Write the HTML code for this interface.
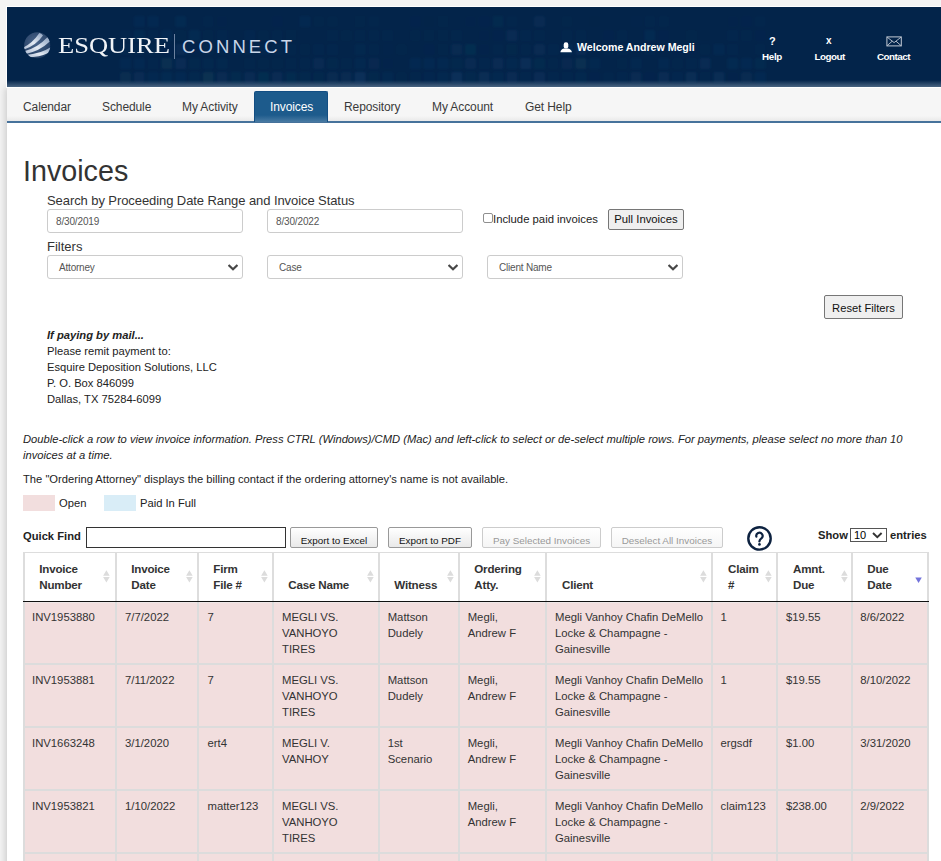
<!DOCTYPE html>
<html><head><meta charset="utf-8">
<style>
*{box-sizing:border-box}
html,body{margin:0;padding:0}
body{width:941px;height:861px;overflow:hidden;background:#f4f4f4;font-family:"Liberation Sans",sans-serif;color:#333;position:relative}
.a{position:absolute;white-space:nowrap}
#frame{position:absolute;left:6px;top:6px;width:960px;height:82px;background:#fff}
#page{position:absolute;left:7px;top:87px;width:960px;height:900px;background:#fff;box-shadow:-1px 0 8px rgba(0,0,0,.2)}
#hdr{position:absolute;left:7px;top:7px;width:960px;height:80px;background:linear-gradient(to bottom,#03244a 0,#03244a 73px,#4a6582 80px)}
#nav{position:absolute;left:7px;top:88px;width:960px;height:33px;background:linear-gradient(to bottom,#f6f6f6 0,#f6f6f6 28px,#e9e9e9 33px)}
#navline{position:absolute;left:7px;top:121px;width:960px;height:2px;background:#46729b}
.nv{position:absolute;top:100px;font-size:12px;color:#3a3a3a;letter-spacing:-0.1px}
#tab{position:absolute;left:254px;top:91px;width:74px;height:31px;background:linear-gradient(to bottom,#1d5b8c 0,#1d5b8c 23px,#4f7fa6 31px);border-radius:2px 2px 0 0;border:1px solid #134e83;border-bottom:0}
.w{color:#fff;font-weight:bold}

.h1{font-size:28.7px;color:#333}
.lbl{font-size:13px;color:#333}
.inp{position:absolute;height:24px;border:1px solid #ccc;border-radius:3px;background:#fff;font-size:10px;letter-spacing:-0.15px;color:#555;padding-left:8px;line-height:24px}
.sel{position:absolute;height:24px;border:1px solid #ccc;border-radius:3px;background:#fff;font-size:10px;letter-spacing:-0.2px;color:#555;padding-left:11px;line-height:24px}
.chev{position:absolute;right:4px;top:8px}
.btn{position:absolute;background:#efefef;border:1px solid #767676;border-radius:2px;color:#111;text-align:center}
.t11{font-size:11.2px;line-height:16px;color:#222}
.dtb{position:absolute;top:527px;height:21px;border:1px solid #999;border-radius:2px;background:linear-gradient(to bottom,#fff 0,#e9e9e9 100%);font-size:9.9px;color:#111;text-align:center;line-height:25.5px}
.dis{border-color:#ccc;color:#999;background:linear-gradient(to bottom,#fff 0,#f5f5f5 100%)}
.th{font-size:11.6px;font-weight:bold;line-height:16px;color:#333;letter-spacing:-0.2px}
.td{font-size:11.3px;line-height:16px;color:#333}
</style></head><body>
<div id="page"></div>
<div id="frame"></div>
<div id="hdr">
</div>
<!--TEX--><svg class="a" style="left:0;top:7px" width="941" height="80" viewBox="0 7 941 80"><defs><filter id="bb"><feGaussianBlur stdDeviation="1"/></filter></defs><g filter="url(#bb)"><rect x="133.8" y="16" width="11" height="11" rx="1.5" fill="#1d4a78" opacity="0.14"/><rect x="147.6" y="16" width="11" height="11" rx="1.5" fill="#1d4a78" opacity="0.13"/><rect x="175.2" y="16" width="11" height="11" rx="1.5" fill="#214f80" opacity="0.12"/><rect x="202.8" y="16" width="11" height="11" rx="1.5" fill="#1d4a78" opacity="0.04"/><rect x="216.6" y="16" width="11" height="11" rx="1.5" fill="#1d4a78" opacity="0.02"/><rect x="271.8" y="16" width="11" height="11" rx="1.5" fill="#1d4a78" opacity="0.03"/><rect x="299.4" y="16" width="11" height="11" rx="1.5" fill="#1d4a78" opacity="0.12"/><rect x="313.2" y="16" width="11" height="11" rx="1.5" fill="#1a5068" opacity="0.02"/><rect x="327.0" y="16" width="11" height="11" rx="1.5" fill="#1a5068" opacity="0.02"/><rect x="354.6" y="16" width="11" height="11" rx="1.5" fill="#1a5068" opacity="0.03"/><rect x="368.4" y="16" width="11" height="11" rx="1.5" fill="#214f80" opacity="0.02"/><rect x="409.8" y="16" width="11" height="11" rx="1.5" fill="#214f80" opacity="0.03"/><rect x="423.6" y="16" width="11" height="11" rx="1.5" fill="#1d4a78" opacity="0.01"/><rect x="437.4" y="16" width="11" height="11" rx="1.5" fill="#1a5068" opacity="0.03"/><rect x="465.0" y="16" width="11" height="11" rx="1.5" fill="#1d4a78" opacity="0.02"/><rect x="478.8" y="16" width="11" height="11" rx="1.5" fill="#214f80" opacity="0.03"/><rect x="492.6" y="16" width="11" height="11" rx="1.5" fill="#1a5068" opacity="0.14"/><rect x="506.4" y="16" width="11" height="11" rx="1.5" fill="#214f80" opacity="0.02"/><rect x="534.0" y="16" width="11" height="11" rx="1.5" fill="#214f80" opacity="0.14"/><rect x="561.6" y="16" width="11" height="11" rx="1.5" fill="#1a5068" opacity="0.02"/><rect x="589.2" y="16" width="11" height="11" rx="1.5" fill="#1d4a78" opacity="0.01"/><rect x="630.6" y="16" width="11" height="11" rx="1.5" fill="#214f80" opacity="0.01"/><rect x="644.4" y="16" width="11" height="11" rx="1.5" fill="#214f80" opacity="0.04"/><rect x="658.2" y="16" width="11" height="11" rx="1.5" fill="#1d4a78" opacity="0.04"/><rect x="727.2" y="16" width="11" height="11" rx="1.5" fill="#1d4a78" opacity="0.02"/><rect x="741.0" y="16" width="11" height="11" rx="1.5" fill="#1d4a78" opacity="0.03"/><rect x="754.8" y="16" width="11" height="11" rx="1.5" fill="#214f80" opacity="0.02"/><rect x="120.0" y="30" width="11" height="11" rx="1.5" fill="#214f80" opacity="0.02"/><rect x="133.8" y="30" width="11" height="11" rx="1.5" fill="#1d4a78" opacity="0.15"/><rect x="147.6" y="30" width="11" height="11" rx="1.5" fill="#1d4a78" opacity="0.06"/><rect x="161.4" y="30" width="11" height="11" rx="1.5" fill="#1d4a78" opacity="0.13"/><rect x="175.2" y="30" width="11" height="11" rx="1.5" fill="#1a5068" opacity="0.03"/><rect x="189.0" y="30" width="11" height="11" rx="1.5" fill="#1d4a78" opacity="0.15"/><rect x="202.8" y="30" width="11" height="11" rx="1.5" fill="#1a5068" opacity="0.04"/><rect x="216.6" y="30" width="11" height="11" rx="1.5" fill="#214f80" opacity="0.05"/><rect x="244.2" y="30" width="11" height="11" rx="1.5" fill="#214f80" opacity="0.06"/><rect x="258.0" y="30" width="11" height="11" rx="1.5" fill="#1a5068" opacity="0.02"/><rect x="271.8" y="30" width="11" height="11" rx="1.5" fill="#1d4a78" opacity="0.04"/><rect x="285.6" y="30" width="11" height="11" rx="1.5" fill="#1a5068" opacity="0.03"/><rect x="327.0" y="30" width="11" height="11" rx="1.5" fill="#1a5068" opacity="0.06"/><rect x="340.8" y="30" width="11" height="11" rx="1.5" fill="#1a5068" opacity="0.03"/><rect x="354.6" y="30" width="11" height="11" rx="1.5" fill="#1a5068" opacity="0.05"/><rect x="368.4" y="30" width="11" height="11" rx="1.5" fill="#1d4a78" opacity="0.04"/><rect x="382.2" y="30" width="11" height="11" rx="1.5" fill="#1d4a78" opacity="0.05"/><rect x="409.8" y="30" width="11" height="11" rx="1.5" fill="#1a5068" opacity="0.04"/><rect x="423.6" y="30" width="11" height="11" rx="1.5" fill="#1a5068" opacity="0.03"/><rect x="437.4" y="30" width="11" height="11" rx="1.5" fill="#1a5068" opacity="0.03"/><rect x="451.2" y="30" width="11" height="11" rx="1.5" fill="#1d4a78" opacity="0.05"/><rect x="478.8" y="30" width="11" height="11" rx="1.5" fill="#1d4a78" opacity="0.02"/><rect x="492.6" y="30" width="11" height="11" rx="1.5" fill="#1d4a78" opacity="0.03"/><rect x="506.4" y="30" width="11" height="11" rx="1.5" fill="#214f80" opacity="0.16"/><rect x="520.2" y="30" width="11" height="11" rx="1.5" fill="#214f80" opacity="0.05"/><rect x="534.0" y="30" width="11" height="11" rx="1.5" fill="#1a5068" opacity="0.05"/><rect x="561.6" y="30" width="11" height="11" rx="1.5" fill="#1d4a78" opacity="0.04"/><rect x="575.4" y="30" width="11" height="11" rx="1.5" fill="#1d4a78" opacity="0.04"/><rect x="603.0" y="30" width="11" height="11" rx="1.5" fill="#214f80" opacity="0.03"/><rect x="616.8" y="30" width="11" height="11" rx="1.5" fill="#1d4a78" opacity="0.04"/><rect x="644.4" y="30" width="11" height="11" rx="1.5" fill="#1d4a78" opacity="0.15"/><rect x="658.2" y="30" width="11" height="11" rx="1.5" fill="#1d4a78" opacity="0.03"/><rect x="685.8" y="30" width="11" height="11" rx="1.5" fill="#1a5068" opacity="0.03"/><rect x="699.6" y="30" width="11" height="11" rx="1.5" fill="#1d4a78" opacity="0.01"/><rect x="727.2" y="30" width="11" height="11" rx="1.5" fill="#214f80" opacity="0.05"/><rect x="741.0" y="30" width="11" height="11" rx="1.5" fill="#1d4a78" opacity="0.05"/><rect x="754.8" y="30" width="11" height="11" rx="1.5" fill="#1d4a78" opacity="0.03"/><rect x="120.0" y="44" width="11" height="11" rx="1.5" fill="#1d4a78" opacity="0.08"/><rect x="133.8" y="44" width="11" height="11" rx="1.5" fill="#1d4a78" opacity="0.07"/><rect x="147.6" y="44" width="11" height="11" rx="1.5" fill="#1d4a78" opacity="0.04"/><rect x="161.4" y="44" width="11" height="11" rx="1.5" fill="#214f80" opacity="0.03"/><rect x="175.2" y="44" width="11" height="11" rx="1.5" fill="#1d4a78" opacity="0.18"/><rect x="189.0" y="44" width="11" height="11" rx="1.5" fill="#1d4a78" opacity="0.02"/><rect x="202.8" y="44" width="11" height="11" rx="1.5" fill="#1d4a78" opacity="0.05"/><rect x="216.6" y="44" width="11" height="11" rx="1.5" fill="#1d4a78" opacity="0.04"/><rect x="230.4" y="44" width="11" height="11" rx="1.5" fill="#214f80" opacity="0.06"/><rect x="244.2" y="44" width="11" height="11" rx="1.5" fill="#1a5068" opacity="0.05"/><rect x="258.0" y="44" width="11" height="11" rx="1.5" fill="#1d4a78" opacity="0.08"/><rect x="271.8" y="44" width="11" height="11" rx="1.5" fill="#1d4a78" opacity="0.07"/><rect x="285.6" y="44" width="11" height="11" rx="1.5" fill="#1d4a78" opacity="0.04"/><rect x="299.4" y="44" width="11" height="11" rx="1.5" fill="#1a5068" opacity="0.04"/><rect x="313.2" y="44" width="11" height="11" rx="1.5" fill="#1d4a78" opacity="0.07"/><rect x="327.0" y="44" width="11" height="11" rx="1.5" fill="#1a5068" opacity="0.08"/><rect x="354.6" y="44" width="11" height="11" rx="1.5" fill="#1d4a78" opacity="0.09"/><rect x="368.4" y="44" width="11" height="11" rx="1.5" fill="#1d4a78" opacity="0.04"/><rect x="382.2" y="44" width="11" height="11" rx="1.5" fill="#214f80" opacity="0.01"/><rect x="396.0" y="44" width="11" height="11" rx="1.5" fill="#1a5068" opacity="0.03"/><rect x="423.6" y="44" width="11" height="11" rx="1.5" fill="#1d4a78" opacity="0.03"/><rect x="437.4" y="44" width="11" height="11" rx="1.5" fill="#1a5068" opacity="0.03"/><rect x="451.2" y="44" width="11" height="11" rx="1.5" fill="#1d4a78" opacity="0.16"/><rect x="465.0" y="44" width="11" height="11" rx="1.5" fill="#1a5068" opacity="0.20"/><rect x="478.8" y="44" width="11" height="11" rx="1.5" fill="#1d4a78" opacity="0.02"/><rect x="492.6" y="44" width="11" height="11" rx="1.5" fill="#214f80" opacity="0.02"/><rect x="506.4" y="44" width="11" height="11" rx="1.5" fill="#1a5068" opacity="0.07"/><rect x="520.2" y="44" width="11" height="11" rx="1.5" fill="#214f80" opacity="0.04"/><rect x="534.0" y="44" width="11" height="11" rx="1.5" fill="#1d4a78" opacity="0.17"/><rect x="547.8" y="44" width="11" height="11" rx="1.5" fill="#1d4a78" opacity="0.07"/><rect x="561.6" y="44" width="11" height="11" rx="1.5" fill="#1d4a78" opacity="0.14"/><rect x="575.4" y="44" width="11" height="11" rx="1.5" fill="#1d4a78" opacity="0.18"/><rect x="603.0" y="44" width="11" height="11" rx="1.5" fill="#214f80" opacity="0.04"/><rect x="616.8" y="44" width="11" height="11" rx="1.5" fill="#1d4a78" opacity="0.08"/><rect x="644.4" y="44" width="11" height="11" rx="1.5" fill="#1a5068" opacity="0.08"/><rect x="672.0" y="44" width="11" height="11" rx="1.5" fill="#1d4a78" opacity="0.03"/><rect x="685.8" y="44" width="11" height="11" rx="1.5" fill="#1d4a78" opacity="0.03"/><rect x="699.6" y="44" width="11" height="11" rx="1.5" fill="#1a5068" opacity="0.02"/><rect x="713.4" y="44" width="11" height="11" rx="1.5" fill="#1d4a78" opacity="0.12"/><rect x="727.2" y="44" width="11" height="11" rx="1.5" fill="#214f80" opacity="0.05"/><rect x="754.8" y="44" width="11" height="11" rx="1.5" fill="#214f80" opacity="0.04"/><rect x="120.0" y="58" width="11" height="11" rx="1.5" fill="#1d4a78" opacity="0.14"/><rect x="133.8" y="58" width="11" height="11" rx="1.5" fill="#1d4a78" opacity="0.14"/><rect x="147.6" y="58" width="11" height="11" rx="1.5" fill="#1d4a78" opacity="0.06"/><rect x="161.4" y="58" width="11" height="11" rx="1.5" fill="#1a5068" opacity="0.23"/><rect x="175.2" y="58" width="11" height="11" rx="1.5" fill="#214f80" opacity="0.18"/><rect x="189.0" y="58" width="11" height="11" rx="1.5" fill="#1a5068" opacity="0.13"/><rect x="202.8" y="58" width="11" height="11" rx="1.5" fill="#1d4a78" opacity="0.09"/><rect x="216.6" y="58" width="11" height="11" rx="1.5" fill="#214f80" opacity="0.07"/><rect x="244.2" y="58" width="11" height="11" rx="1.5" fill="#1a5068" opacity="0.05"/><rect x="258.0" y="58" width="11" height="11" rx="1.5" fill="#1a5068" opacity="0.04"/><rect x="271.8" y="58" width="11" height="11" rx="1.5" fill="#1a5068" opacity="0.03"/><rect x="285.6" y="58" width="11" height="11" rx="1.5" fill="#1d4a78" opacity="0.05"/><rect x="299.4" y="58" width="11" height="11" rx="1.5" fill="#1d4a78" opacity="0.04"/><rect x="313.2" y="58" width="11" height="11" rx="1.5" fill="#214f80" opacity="0.15"/><rect x="327.0" y="58" width="11" height="11" rx="1.5" fill="#1a5068" opacity="0.09"/><rect x="340.8" y="58" width="11" height="11" rx="1.5" fill="#1d4a78" opacity="0.05"/><rect x="354.6" y="58" width="11" height="11" rx="1.5" fill="#214f80" opacity="0.09"/><rect x="368.4" y="58" width="11" height="11" rx="1.5" fill="#214f80" opacity="0.11"/><rect x="382.2" y="58" width="11" height="11" rx="1.5" fill="#1d4a78" opacity="0.02"/><rect x="409.8" y="58" width="11" height="11" rx="1.5" fill="#1d4a78" opacity="0.13"/><rect x="423.6" y="58" width="11" height="11" rx="1.5" fill="#1d4a78" opacity="0.13"/><rect x="437.4" y="58" width="11" height="11" rx="1.5" fill="#1d4a78" opacity="0.12"/><rect x="451.2" y="58" width="11" height="11" rx="1.5" fill="#1a5068" opacity="0.13"/><rect x="465.0" y="58" width="11" height="11" rx="1.5" fill="#214f80" opacity="0.14"/><rect x="478.8" y="58" width="11" height="11" rx="1.5" fill="#1d4a78" opacity="0.08"/><rect x="492.6" y="58" width="11" height="11" rx="1.5" fill="#1d4a78" opacity="0.18"/><rect x="506.4" y="58" width="11" height="11" rx="1.5" fill="#1d4a78" opacity="0.11"/><rect x="520.2" y="58" width="11" height="11" rx="1.5" fill="#214f80" opacity="0.21"/><rect x="534.0" y="58" width="11" height="11" rx="1.5" fill="#1a5068" opacity="0.15"/><rect x="547.8" y="58" width="11" height="11" rx="1.5" fill="#1d4a78" opacity="0.04"/><rect x="561.6" y="58" width="11" height="11" rx="1.5" fill="#214f80" opacity="0.11"/><rect x="575.4" y="58" width="11" height="11" rx="1.5" fill="#1a5068" opacity="0.23"/><rect x="589.2" y="58" width="11" height="11" rx="1.5" fill="#1d4a78" opacity="0.11"/><rect x="616.8" y="58" width="11" height="11" rx="1.5" fill="#1a5068" opacity="0.04"/><rect x="630.6" y="58" width="11" height="11" rx="1.5" fill="#214f80" opacity="0.09"/><rect x="658.2" y="58" width="11" height="11" rx="1.5" fill="#214f80" opacity="0.10"/><rect x="672.0" y="58" width="11" height="11" rx="1.5" fill="#214f80" opacity="0.04"/><rect x="685.8" y="58" width="11" height="11" rx="1.5" fill="#1d4a78" opacity="0.07"/><rect x="699.6" y="58" width="11" height="11" rx="1.5" fill="#214f80" opacity="0.16"/><rect x="727.2" y="58" width="11" height="11" rx="1.5" fill="#214f80" opacity="0.12"/><rect x="741.0" y="58" width="11" height="11" rx="1.5" fill="#1d4a78" opacity="0.14"/><rect x="754.8" y="58" width="11" height="11" rx="1.5" fill="#1a5068" opacity="0.12"/><rect x="120.0" y="72" width="11" height="11" rx="1.5" fill="#1a5068" opacity="0.19"/><rect x="133.8" y="72" width="11" height="11" rx="1.5" fill="#1d4a78" opacity="0.18"/><rect x="147.6" y="72" width="11" height="11" rx="1.5" fill="#214f80" opacity="0.10"/><rect x="161.4" y="72" width="11" height="11" rx="1.5" fill="#214f80" opacity="0.12"/><rect x="175.2" y="72" width="11" height="11" rx="1.5" fill="#1d4a78" opacity="0.14"/><rect x="189.0" y="72" width="11" height="11" rx="1.5" fill="#1d4a78" opacity="0.09"/><rect x="202.8" y="72" width="11" height="11" rx="1.5" fill="#1a5068" opacity="0.27"/><rect x="216.6" y="72" width="11" height="11" rx="1.5" fill="#1d4a78" opacity="0.17"/><rect x="230.4" y="72" width="11" height="11" rx="1.5" fill="#1a5068" opacity="0.14"/><rect x="244.2" y="72" width="11" height="11" rx="1.5" fill="#214f80" opacity="0.16"/><rect x="258.0" y="72" width="11" height="11" rx="1.5" fill="#1a5068" opacity="0.20"/><rect x="271.8" y="72" width="11" height="11" rx="1.5" fill="#1d4a78" opacity="0.18"/><rect x="285.6" y="72" width="11" height="11" rx="1.5" fill="#1a5068" opacity="0.17"/><rect x="299.4" y="72" width="11" height="11" rx="1.5" fill="#1a5068" opacity="0.13"/><rect x="313.2" y="72" width="11" height="11" rx="1.5" fill="#1a5068" opacity="0.09"/><rect x="327.0" y="72" width="11" height="11" rx="1.5" fill="#1d4a78" opacity="0.16"/><rect x="340.8" y="72" width="11" height="11" rx="1.5" fill="#1d4a78" opacity="0.16"/><rect x="354.6" y="72" width="11" height="11" rx="1.5" fill="#214f80" opacity="0.26"/><rect x="368.4" y="72" width="11" height="11" rx="1.5" fill="#1a5068" opacity="0.09"/><rect x="382.2" y="72" width="11" height="11" rx="1.5" fill="#1d4a78" opacity="0.10"/><rect x="396.0" y="72" width="11" height="11" rx="1.5" fill="#1a5068" opacity="0.04"/><rect x="409.8" y="72" width="11" height="11" rx="1.5" fill="#1a5068" opacity="0.06"/><rect x="423.6" y="72" width="11" height="11" rx="1.5" fill="#214f80" opacity="0.08"/><rect x="437.4" y="72" width="11" height="11" rx="1.5" fill="#1d4a78" opacity="0.11"/><rect x="451.2" y="72" width="11" height="11" rx="1.5" fill="#214f80" opacity="0.24"/><rect x="465.0" y="72" width="11" height="11" rx="1.5" fill="#1a5068" opacity="0.11"/><rect x="478.8" y="72" width="11" height="11" rx="1.5" fill="#1d4a78" opacity="0.20"/><rect x="492.6" y="72" width="11" height="11" rx="1.5" fill="#1d4a78" opacity="0.11"/><rect x="506.4" y="72" width="11" height="11" rx="1.5" fill="#1d4a78" opacity="0.18"/><rect x="520.2" y="72" width="11" height="11" rx="1.5" fill="#1d4a78" opacity="0.08"/><rect x="534.0" y="72" width="11" height="11" rx="1.5" fill="#214f80" opacity="0.18"/><rect x="547.8" y="72" width="11" height="11" rx="1.5" fill="#1d4a78" opacity="0.08"/><rect x="561.6" y="72" width="11" height="11" rx="1.5" fill="#1d4a78" opacity="0.08"/><rect x="575.4" y="72" width="11" height="11" rx="1.5" fill="#1a5068" opacity="0.10"/><rect x="589.2" y="72" width="11" height="11" rx="1.5" fill="#1d4a78" opacity="0.03"/><rect x="603.0" y="72" width="11" height="11" rx="1.5" fill="#214f80" opacity="0.02"/><rect x="616.8" y="72" width="11" height="11" rx="1.5" fill="#1a5068" opacity="0.08"/><rect x="630.6" y="72" width="11" height="11" rx="1.5" fill="#1d4a78" opacity="0.17"/><rect x="644.4" y="72" width="11" height="11" rx="1.5" fill="#214f80" opacity="0.03"/><rect x="658.2" y="72" width="11" height="11" rx="1.5" fill="#1d4a78" opacity="0.19"/><rect x="672.0" y="72" width="11" height="11" rx="1.5" fill="#214f80" opacity="0.08"/><rect x="685.8" y="72" width="11" height="11" rx="1.5" fill="#1d4a78" opacity="0.20"/><rect x="699.6" y="72" width="11" height="11" rx="1.5" fill="#1d4a78" opacity="0.05"/><rect x="713.4" y="72" width="11" height="11" rx="1.5" fill="#214f80" opacity="0.19"/><rect x="727.2" y="72" width="11" height="11" rx="1.5" fill="#1d4a78" opacity="0.02"/><rect x="741.0" y="72" width="11" height="11" rx="1.5" fill="#1d4a78" opacity="0.16"/><rect x="754.8" y="72" width="11" height="11" rx="1.5" fill="#1d4a78" opacity="0.13"/></g></svg><!--/TEX-->
<!-- logo -->
<svg class="a" style="left:22px;top:31px" width="30" height="28" viewBox="0 0 30 28">
  <defs>
   <radialGradient id="sg" cx="45%" cy="40%" r="60%"><stop offset="0" stop-color="#5a7399"/><stop offset="1" stop-color="#2a4468"/></radialGradient>
   <linearGradient id="bg1" x1="0" y1="1" x2="1" y2="0"><stop offset="0" stop-color="#aebcd2"/><stop offset=".45" stop-color="#e4eaf3"/><stop offset="1" stop-color="#8ea3c0"/></linearGradient>
   <clipPath id="cc"><circle cx="15.2" cy="14.3" r="13.2"/></clipPath>
   <filter id="bl" x="-10%" y="-10%" width="120%" height="120%"><feGaussianBlur stdDeviation="0.6"/></filter>
  </defs>
  <circle cx="15.2" cy="14.3" r="13" fill="url(#sg)" opacity=".85" filter="url(#bl)"/>
  <g clip-path="url(#cc)" filter="url(#bl)" fill="url(#bg1)">
   <path d="M1.8,16.2 Q10.5,12 17.4,2 Q20,2.6 21,4.6 Q14,14.5 2.2,18.6 Z"/>
   <path d="M2.2,20.2 Q15.5,16.8 25.4,6.2 Q27.2,8 27.8,10.6 Q17.5,20.4 3,23.2 Z"/>
   <path d="M3.8,24 Q18.5,22.8 28.6,16.2 Q28.8,19 28,21.2 Q17,26.4 5.6,26.4 Z"/>
  </g>
</svg>
<div class="a" style="left:58px;top:30px;font-family:'Liberation Serif',serif;font-size:24px;color:#f0f3f7;line-height:30px;transform:scaleX(1.105);transform-origin:0 0">ESQUIRE</div>
<div class="a" style="left:174px;top:34px;width:1px;height:25px;background:#6d82a0"></div>
<div class="a" style="left:182px;top:36px;font-size:18.5px;letter-spacing:3.1px;color:#c8d5e8;line-height:22px">CONNECT</div>

<svg class="a" style="left:559.5px;top:41.5px" width="13" height="11" viewBox="0 0 13 11"><rect x="3.7" y="0.3" width="4.6" height="6.3" rx="2.1" fill="#fff"/><path d="M0.4 10.3 Q0.5 7.4 4 6.4 L8 6.4 Q11.6 7.4 11.9 10.3 Z" fill="#fff"/></svg>
<div class="a w" style="left:577px;top:41px;font-size:10.6px;line-height:13px;letter-spacing:0px">Welcome Andrew Megli</div>
<div class="a w" style="left:769px;top:34.5px;font-size:11px">?</div>
<div class="a w" style="left:762px;top:51px;font-size:9.8px;letter-spacing:-0.3px">Help</div>
<div class="a w" style="left:826px;top:35px;font-size:10px">x</div>
<div class="a w" style="left:814.5px;top:51px;font-size:9.8px;letter-spacing:-0.5px">Logout</div>
<div class="a w" style="left:877px;top:51px;font-size:9.8px;letter-spacing:-0.5px">Contact</div>
<svg class="a" style="left:885.5px;top:35.5px" width="17" height="11" viewBox="0 0 17 11"><rect x="0.9" y="0.9" width="14.4" height="9" fill="none" stroke="#c3cad5" stroke-width="1"/><path d="M1.2 1.2 L8.1 6.6 L15 1.2 M1.2 9.6 L6.2 5.2 M15 9.6 L10 5.2" fill="none" stroke="#c3cad5" stroke-width="0.9"/></svg>
<div id="nav"></div>
<div id="navline"></div>
<div id="tab"></div>
<div class="nv" style="left:23px">Calendar</div>
<div class="nv" style="left:102px">Schedule</div>
<div class="nv" style="left:182px">My Activity</div>
<div class="nv" style="left:270px;color:#fff">Invoices</div>
<div class="nv" style="left:344px">Repository</div>
<div class="nv" style="left:432px">My Account</div>
<div class="nv" style="left:525px">Get Help</div>


<div class="a h1" style="left:23px;top:154.5px">Invoices</div>
<div class="a lbl" style="left:47px;top:193px;letter-spacing:-0.08px">Search by Proceeding Date Range and Invoice Status</div>
<div class="inp" style="left:47px;top:209px;width:196px">8/30/2019</div>
<div class="inp" style="left:267px;top:209px;width:196px">8/30/2022</div>
<div class="a" style="left:483px;top:213px;width:10px;height:10px;border:1px solid #8f8f8f;border-radius:2px;background:#fff"></div>
<div class="a" style="left:493px;top:213px;font-size:11.3px;color:#222">Include paid invoices</div>
<div class="btn" style="left:608px;top:209px;width:76px;height:21px;font-size:11.3px;line-height:19px">Pull Invoices</div>
<div class="a lbl" style="left:47px;top:239px">Filters</div>
<div class="sel" style="left:47px;top:255px;width:196px">Attorney<svg class="chev" width="10" height="7" viewBox="0 0 10 7"><path d="M0.6 1 L5 5.3 L9.4 1" stroke="#474747" stroke-width="2.1" fill="none"/></svg></div>
<div class="sel" style="left:267px;top:255px;width:196px">Case<svg class="chev" width="10" height="7" viewBox="0 0 10 7"><path d="M0.6 1 L5 5.3 L9.4 1" stroke="#474747" stroke-width="2.1" fill="none"/></svg></div>
<div class="sel" style="left:487px;top:255px;width:196px">Client Name<svg class="chev" width="10" height="7" viewBox="0 0 10 7"><path d="M0.6 1 L5 5.3 L9.4 1" stroke="#474747" stroke-width="2.1" fill="none"/></svg></div>
<div class="btn" style="left:824px;top:295px;width:79px;height:24px;font-size:11.2px;line-height:24px">Reset Filters</div>

<div class="a t11" style="left:47px;top:327px"><b><i>If paying by mail...</i></b><br>Please remit payment to:<br>Esquire Deposition Solutions, LLC<br>P. O. Box 846099<br>Dallas, TX 75284-6099</div>

<div class="a t11" style="left:23px;top:430.5px;white-space:normal;width:900px"><i>Double-click a row to view invoice information. Press CTRL (Windows)/CMD (Mac) and left-click to select or de-select multiple rows. For payments, please select no more than 10 invoices at a time.</i></div>
<div class="a t11" style="left:23px;top:471px">The "Ordering Attorney" displays the billing contact if the ordering attorney's name is not available.</div>
<div class="a" style="left:23px;top:495px;width:32px;height:16px;background:#f2dede"></div>
<div class="a t11" style="left:59px;top:495px">Open</div>
<div class="a" style="left:104px;top:495px;width:32px;height:16px;background:#d9edf7"></div>
<div class="a t11" style="left:140px;top:495px">Paid In Full</div>

<div class="a t11" style="left:23px;top:528px;font-weight:bold">Quick Find</div>
<div class="a" style="left:86px;top:527px;width:200px;height:21px;border:1px solid #333;background:#fff"></div>
<div class="dtb" style="left:290px;width:88px">Export to Excel</div>
<div class="dtb" style="left:388px;width:84px">Export to PDF</div>
<div class="dtb dis" style="left:482px;width:119px">Pay Selected Invoices</div>
<div class="dtb dis" style="left:611px;width:112px">Deselect All Invoices</div>
<svg class="a" style="left:746px;top:525px" width="27" height="27" viewBox="0 0 27 27"><circle cx="13.5" cy="13.4" r="11.2" stroke="#0d2240" stroke-width="2.4" fill="none"/><path d="M10.4 11.7 A3.15 3.15 0 1 1 15.6 13.1 Q13.5 14.6 13.4 16.4" stroke="#0d2240" stroke-width="2.2" fill="none" stroke-linecap="round"/><circle cx="13.45" cy="19.4" r="1.35" fill="#0d2240"/></svg>
<div class="a t11" style="left:818px;top:527px;font-weight:bold">Show</div>
<div class="a" style="left:850px;top:528px;width:37px;height:14px;border:1px solid #555;background:#fff;font-size:11px;line-height:12px;padding-left:3px;color:#000">10<svg style="position:absolute;left:21px;top:3px" width="11" height="7" viewBox="0 0 11 7"><path d="M1 1 L5.3 5.2 L9.6 1" stroke="#333" stroke-width="1.9" fill="none"/></svg></div>
<div class="a t11" style="left:890px;top:527px;font-weight:bold">entries</div>
<!--TABLE-->
<div class="a" style="left:23px;top:552px;width:906px;height:1px;background:#ddd"></div>
<div class="a" style="left:23px;top:602px;width:906px;height:300px;background:#f2dede"></div>
<div class="a" style="left:23px;top:601px;width:906px;height:1px;background:#111"></div>
<div class="a" style="left:25px;top:602px;width:902px;height:1px;background:#efe7e7"></div>
<div class="a" style="left:23px;top:663px;width:906px;height:2px;background:#dcdcdc"></div>
<div class="a" style="left:23px;top:726px;width:906px;height:2px;background:#dcdcdc"></div>
<div class="a" style="left:23px;top:789px;width:906px;height:2px;background:#dcdcdc"></div>
<div class="a" style="left:23px;top:852px;width:906px;height:2px;background:#dcdcdc"></div>
<div class="a" style="left:23px;top:552px;width:2px;height:49px;background:#ddd"></div>
<div class="a" style="left:23px;top:602px;width:2px;height:300px;background:#dcdcdc"></div>
<div class="a" style="left:115px;top:552px;width:2px;height:49px;background:#ddd"></div>
<div class="a" style="left:115px;top:602px;width:2px;height:300px;background:#dcdcdc"></div>
<div class="a" style="left:197px;top:552px;width:2px;height:49px;background:#ddd"></div>
<div class="a" style="left:197px;top:602px;width:2px;height:300px;background:#dcdcdc"></div>
<div class="a" style="left:272px;top:552px;width:2px;height:49px;background:#ddd"></div>
<div class="a" style="left:272px;top:602px;width:2px;height:300px;background:#dcdcdc"></div>
<div class="a" style="left:378px;top:552px;width:2px;height:49px;background:#ddd"></div>
<div class="a" style="left:378px;top:602px;width:2px;height:300px;background:#dcdcdc"></div>
<div class="a" style="left:458px;top:552px;width:2px;height:49px;background:#ddd"></div>
<div class="a" style="left:458px;top:602px;width:2px;height:300px;background:#dcdcdc"></div>
<div class="a" style="left:545px;top:552px;width:2px;height:49px;background:#ddd"></div>
<div class="a" style="left:545px;top:602px;width:2px;height:300px;background:#dcdcdc"></div>
<div class="a" style="left:711px;top:552px;width:2px;height:49px;background:#ddd"></div>
<div class="a" style="left:711px;top:602px;width:2px;height:300px;background:#dcdcdc"></div>
<div class="a" style="left:776px;top:552px;width:2px;height:49px;background:#ddd"></div>
<div class="a" style="left:776px;top:602px;width:2px;height:300px;background:#dcdcdc"></div>
<div class="a" style="left:851px;top:552px;width:2px;height:49px;background:#ddd"></div>
<div class="a" style="left:851px;top:602px;width:2px;height:300px;background:#dcdcdc"></div>
<div class="a" style="left:927px;top:552px;width:2px;height:49px;background:#ddd"></div>
<div class="a" style="left:927px;top:602px;width:2px;height:300px;background:#dcdcdc"></div>
<div class="a th" style="left:39.3px;top:561px">Invoice<br>Number</div>
<svg class="a" style="left:103.2px;top:570px" width="7" height="13" viewBox="0 0 7 13"><path d="M3.4 0.3 L6.7 5.8 L0.1 5.8Z M0.1 7 L6.7 7 L3.4 12.5Z" fill="#dcdcdc"/></svg>
<div class="a th" style="left:131.3px;top:561px">Invoice<br>Date</div>
<svg class="a" style="left:186.2px;top:570px" width="7" height="13" viewBox="0 0 7 13"><path d="M3.4 0.3 L6.7 5.8 L0.1 5.8Z M0.1 7 L6.7 7 L3.4 12.5Z" fill="#dcdcdc"/></svg>
<div class="a th" style="left:213.3px;top:561px">Firm<br>File #</div>
<svg class="a" style="left:261.0px;top:570px" width="7" height="13" viewBox="0 0 7 13"><path d="M3.4 0.3 L6.7 5.8 L0.1 5.8Z M0.1 7 L6.7 7 L3.4 12.5Z" fill="#dcdcdc"/></svg>
<div class="a th" style="left:288.3px;top:577px">Case Name</div>
<svg class="a" style="left:366.7px;top:570px" width="7" height="13" viewBox="0 0 7 13"><path d="M3.4 0.3 L6.7 5.8 L0.1 5.8Z M0.1 7 L6.7 7 L3.4 12.5Z" fill="#dcdcdc"/></svg>
<div class="a th" style="left:394.3px;top:577px">Witness</div>
<svg class="a" style="left:446.8px;top:570px" width="7" height="13" viewBox="0 0 7 13"><path d="M3.4 0.3 L6.7 5.8 L0.1 5.8Z M0.1 7 L6.7 7 L3.4 12.5Z" fill="#dcdcdc"/></svg>
<div class="a th" style="left:474.3px;top:561px">Ordering<br>Atty.</div>
<svg class="a" style="left:534.1px;top:570px" width="7" height="13" viewBox="0 0 7 13"><path d="M3.4 0.3 L6.7 5.8 L0.1 5.8Z M0.1 7 L6.7 7 L3.4 12.5Z" fill="#dcdcdc"/></svg>
<div class="a th" style="left:562px;top:577px">Client</div>
<svg class="a" style="left:700.3px;top:570px" width="7" height="13" viewBox="0 0 7 13"><path d="M3.4 0.3 L6.7 5.8 L0.1 5.8Z M0.1 7 L6.7 7 L3.4 12.5Z" fill="#dcdcdc"/></svg>
<div class="a th" style="left:728px;top:561px">Claim<br>#</div>
<svg class="a" style="left:764.8px;top:570px" width="7" height="13" viewBox="0 0 7 13"><path d="M3.4 0.3 L6.7 5.8 L0.1 5.8Z M0.1 7 L6.7 7 L3.4 12.5Z" fill="#dcdcdc"/></svg>
<div class="a th" style="left:793px;top:561px">Amnt.<br>Due</div>
<svg class="a" style="left:840.6px;top:570px" width="7" height="13" viewBox="0 0 7 13"><path d="M3.4 0.3 L6.7 5.8 L0.1 5.8Z M0.1 7 L6.7 7 L3.4 12.5Z" fill="#dcdcdc"/></svg>
<div class="a th" style="left:867.3px;top:561px">Due<br>Date</div>
<svg class="a" style="left:915px;top:576.5px" width="7" height="7" viewBox="0 0 7 7"><path d="M0.3 0.4 L6.8 0.4 L3.55 5.9Z" fill="#7373db"/></svg>
<div class="a td" style="left:32px;top:609px">INV1953880</div>
<div class="a td" style="left:125px;top:609px">7/7/2022</div>
<div class="a td" style="left:207.5px;top:609px">7</div>
<div class="a td" style="left:282px;top:609px">MEGLI VS.<br>VANHOYO<br>TIRES</div>
<div class="a td" style="left:387.7px;top:609px">Mattson<br>Dudely</div>
<div class="a td" style="left:467.7px;top:609px">Megli,<br>Andrew F</div>
<div class="a td" style="left:555px;top:609px">Megli Vanhoy Chafin DeMello<br>Locke &amp; Champagne -<br>Gainesville</div>
<div class="a td" style="left:720.5px;top:609px">1</div>
<div class="a td" style="left:786px;top:609px">$19.55</div>
<div class="a td" style="left:860.3px;top:609px">8/6/2022</div>
<div class="a td" style="left:32px;top:672px">INV1953881</div>
<div class="a td" style="left:125px;top:672px">7/11/2022</div>
<div class="a td" style="left:207.5px;top:672px">7</div>
<div class="a td" style="left:282px;top:672px">MEGLI VS.<br>VANHOYO<br>TIRES</div>
<div class="a td" style="left:387.7px;top:672px">Mattson<br>Dudely</div>
<div class="a td" style="left:467.7px;top:672px">Megli,<br>Andrew F</div>
<div class="a td" style="left:555px;top:672px">Megli Vanhoy Chafin DeMello<br>Locke &amp; Champagne -<br>Gainesville</div>
<div class="a td" style="left:720.5px;top:672px">1</div>
<div class="a td" style="left:786px;top:672px">$19.55</div>
<div class="a td" style="left:860.3px;top:672px">8/10/2022</div>
<div class="a td" style="left:32px;top:735px">INV1663248</div>
<div class="a td" style="left:125px;top:735px">3/1/2020</div>
<div class="a td" style="left:207.5px;top:735px">ert4</div>
<div class="a td" style="left:282px;top:735px">MEGLI V.<br>VANHOY</div>
<div class="a td" style="left:387.7px;top:735px">1st<br>Scenario</div>
<div class="a td" style="left:467.7px;top:735px">Megli,<br>Andrew F</div>
<div class="a td" style="left:555px;top:735px">Megli Vanhoy Chafin DeMello<br>Locke &amp; Champagne -<br>Gainesville</div>
<div class="a td" style="left:720.5px;top:735px">ergsdf</div>
<div class="a td" style="left:786px;top:735px">$1.00</div>
<div class="a td" style="left:860.3px;top:735px">3/31/2020</div>
<div class="a td" style="left:32px;top:798px">INV1953821</div>
<div class="a td" style="left:125px;top:798px">1/10/2022</div>
<div class="a td" style="left:207.5px;top:798px">matter123</div>
<div class="a td" style="left:282px;top:798px">MEGLI VS.<br>VANHOYO<br>TIRES</div>
<div class="a td" style="left:467.7px;top:798px">Megli,<br>Andrew F</div>
<div class="a td" style="left:555px;top:798px">Megli Vanhoy Chafin DeMello<br>Locke &amp; Champagne -<br>Gainesville</div>
<div class="a td" style="left:720.5px;top:798px">claim123</div>
<div class="a td" style="left:786px;top:798px">$238.00</div>
<div class="a td" style="left:860.3px;top:798px">2/9/2022</div>
<!--/TABLE-->
</body></html>
